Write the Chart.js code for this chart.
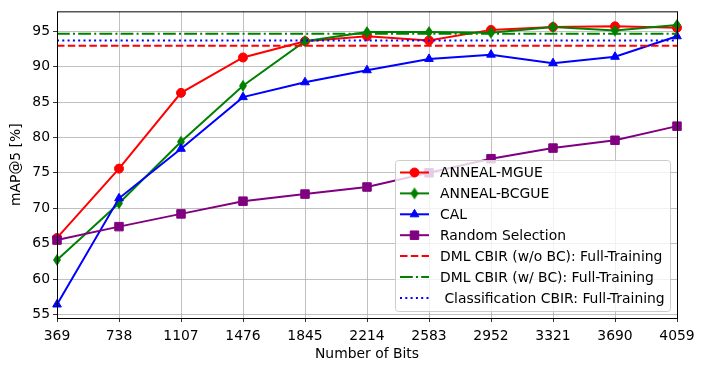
<!DOCTYPE html>
<html>
<head>
<meta charset="utf-8">
<script src="https://cdn.jsdelivr.net/npm/chart.js@4/dist/chart.umd.min.js"></script>
<style>
  html, body { margin: 0; padding: 0; background: #fff; }
</style>
</head>
<body>
<canvas id="chart" width="704" height="371"></canvas>
<script>
// Data
const bits = ['369', '738', '1107', '1476', '1845', '2214', '2583', '2952', '3321', '3690', '4059'];
const annealMgue = [65.8, 75.6, 86.3, 91.3, 93.6, 94.3, 93.7, 95.2, 95.6, 95.7, 95.5];
const annealBcgue = [62.7, 70.7, 79.4, 87.3, 93.6, 94.9, 94.9, 94.8, 95.6, 95.1, 95.9];
const cal = [56.4, 71.4, 78.4, 85.7, 87.8, 89.5, 91.1, 91.7, 90.5, 91.4, 94.3];
const randomSel = [65.5, 67.4, 69.2, 71.0, 72.0, 73.0, 75.0, 77.0, 78.5, 79.6, 81.6];
const dmlNoBc = 92.95;
const dmlBc = 94.65;
const classCbir = 93.7;
const yTicks = [55, 60, 65, 70, 75, 80, 85, 90, 95];

const flat = v => bits.map(() => v);
const font = { family: 'DejaVu Sans', size: 13.9 };

// thin diamond marker like matplotlib 'd'
function thinDiamond(color) {
    const c = document.createElement('canvas');
    c.width = 10; c.height = 14;
    const g = c.getContext('2d');
    g.fillStyle = color;
    g.beginPath();
    g.moveTo(5, 1); g.lineTo(9, 7); g.lineTo(5, 13); g.lineTo(1, 7);
    g.closePath();
    g.fill();
    return c;
}
const diamond = thinDiamond('#008000');

const series = [
    { label: 'ANNEAL-MGUE', data: annealMgue, color: '#ff0000', style: 'circle', r: 4.5, order: 7 },
    { label: 'ANNEAL-BCGUE', data: annealBcgue, color: '#008000', style: diamond, r: 6, order: 6 },
    { label: 'CAL', data: cal, color: '#0000ff', style: 'triangle', r: 5, order: 5 },
    { label: 'Random Selection', data: randomSel, color: '#800080', style: 'rect', r: 6, order: 4 },
    { label: 'DML CBIR (w/o BC): Full-Training', data: flat(dmlNoBc), color: '#ff0000', dash: [7.5, 3.3], order: 3 },
    { label: 'DML CBIR (w/ BC): Full-Training', data: flat(dmlBc), color: '#008000', dash: [12.8, 3.2, 2, 3.2], order: 2 },
    { label: ' Classification CBIR: Full-Training', data: flat(classCbir), color: '#0000ff', dash: [2, 3.3], order: 1 }
];

const datasets = series.map(s => ({
    label: s.label,
    data: s.data,
    borderColor: s.color,
    backgroundColor: s.color,
    borderWidth: 2,
    borderDash: s.dash || [],
    pointStyle: s.style || false,
    pointRadius: s.style ? s.r : 0,
    pointBorderWidth: 1,
    tension: 0,
    order: s.order
}));

// frame + legend inside plot area, lower right
const frameAndLegend = {
    id: 'frameAndLegend',
    afterDatasetsDraw(chart) {
        const ctx = chart.ctx;
        const a = chart.chartArea;
        ctx.save();
        ctx.strokeStyle = '#000';
        ctx.lineWidth = 1;
        ctx.strokeRect(a.left + 0.5, a.top + 0.5, a.right - a.left, a.bottom - a.top);

        const bx = 395, by = 160, bw = 275, bh = 151;
        ctx.beginPath();
        ctx.roundRect(bx + 0.5, by + 0.5, bw, bh, 3);
        ctx.fillStyle = 'rgba(255,255,255,0.8)';
        ctx.fill();
        ctx.strokeStyle = '#cccccc';
        ctx.stroke();

        ctx.font = '13.9px "DejaVu Sans"';
        ctx.textBaseline = 'middle';
        series.forEach((s, i) => {
            const y = 172.5 + i * 20.9;
            ctx.strokeStyle = s.color;
            ctx.lineWidth = 2;
            ctx.setLineDash(s.dash || []);
            ctx.beginPath();
            ctx.moveTo(400, y);
            ctx.lineTo(429, y);
            ctx.stroke();
            ctx.setLineDash([]);
            if (s.style) {
                ctx.fillStyle = s.color;
                ctx.lineWidth = 1;
                Chart.helpers.drawPoint(ctx, { pointStyle: s.style, radius: s.r, rotation: 0, borderWidth: 1 }, 414.5, y);
            }
            ctx.fillStyle = '#000';
            ctx.fillText(s.label, 440, y + 1);
        });
        ctx.restore();
    }
};

new Chart(document.getElementById('chart'), {
    type: 'line',
    data: { labels: bits, datasets },
    plugins: [frameAndLegend],
    options: {
        responsive: false,
        animation: false,
        layout: { padding: { top: 10, right: 27, left: 0, bottom: 0 } },
        plugins: { legend: { display: false }, tooltip: { enabled: false } },
        scales: {
            x: {
                offset: false,
                grid: { color: '#b0b0b0', lineWidth: 0.8, tickColor: '#000', tickLength: 4, offset: false },
                border: { display: false },
                ticks: { color: '#000', font, padding: 6, maxRotation: 0, autoSkip: false },
                title: { display: true, text: 'Number of Bits', color: '#000', font, padding: 8 },
                afterFit(scale) { scale.height = 53; }
            },
            y: {
                min: 54.49,
                max: 97.82,
                grid: { color: '#b0b0b0', lineWidth: 0.8, tickColor: '#000', tickLength: 4 },
                border: { display: false },
                ticks: { color: '#000', font, padding: 3 },
                afterBuildTicks(scale) { scale.ticks = yTicks.map(v => ({ value: v })); },
                title: { display: true, text: 'mAP@5 [%]', color: '#000', font, padding: 8 },
                afterFit(scale) { scale.width = 57; }
            }
        }
    }
});
</script>
</body>
</html>
